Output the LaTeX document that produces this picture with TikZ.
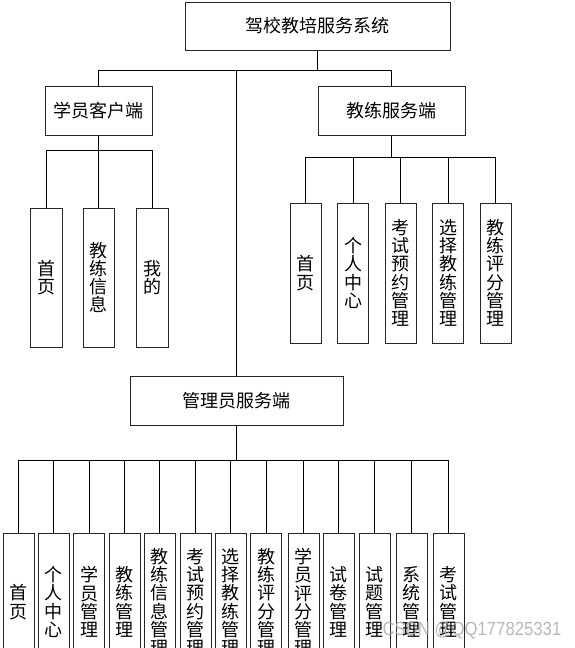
\documentclass[tikz,border=0pt]{standalone}
\usepackage{fontspec}
\newfontfamily\cjk{Noto Sans CJK SC}
\setmainfont{Liberation Sans}
\begin{document}
\begin{tikzpicture}[x=1pt,y=-1pt,
  box/.style={draw=black!85,line width=1pt,inner sep=0pt,font=\cjk\fontsize{18}{18.3}\selectfont},
  leaf/.style={box,minimum width=31pt,align=center},
  conn/.style={draw=black,line width=1pt}]
\useasboundingbox (0,0) rectangle (575,648);
% top level
\node[box,minimum width=265pt,minimum height=48pt] (top) at (317.5,26) {驾校教培服务系统};
\node[box,minimum width=107pt,minimum height=49pt] (stu) at (98.5,110.5) {学员客户端};
\node[box,minimum width=147pt,minimum height=49pt] (coa) at (391.5,110.5) {教练服务端};
\node[box,minimum width=213pt,minimum height=49pt] (adm) at (236.5,400.5) {管理员服务端};
% student leaves
\node[leaf,minimum width=32pt,minimum height=139pt] (s1) at (46,277.5) {首\\页};
\node[leaf,minimum width=31pt,minimum height=139pt] (s2) at (98.5,277.5) {教\\练\\信\\息};
\node[leaf,minimum width=32pt,minimum height=139pt] (s3) at (152,277.5) {我\\的};
% coach leaves
\node[leaf,minimum height=140pt] (c1) at (305.5,273) {首\\页};
\node[leaf,minimum height=140pt] (c2) at (353,273) {个\\人\\中\\心};
\node[leaf,minimum height=140pt] (c3) at (400.5,273) {考\\试\\预\\约\\管\\理};
\node[leaf,minimum height=140pt] (c4) at (448,273) {选\\择\\教\\练\\管\\理};
\node[leaf,minimum height=140pt] (c5) at (495.5,273) {教\\练\\评\\分\\管\\理};
% admin leaves
\node[leaf,minimum height=138pt] (a1) at (18.5,602) {首\\页};
\node[leaf,minimum height=138pt] (a2) at (53.5,602) {个\\人\\中\\心};
\node[leaf,minimum height=138pt] (a3) at (89,602) {学\\员\\管\\理};
\node[leaf,minimum height=138pt] (a4) at (124.5,602) {教\\练\\管\\理};
\node[leaf,minimum height=138pt] (a5) at (159.5,602) {教\\练\\信\\息\\管\\理};
\node[leaf,minimum height=138pt] (a6) at (195.5,602) {考\\试\\预\\约\\管\\理};
\node[leaf,minimum height=138pt] (a7) at (230.5,602) {选\\择\\教\\练\\管\\理};
\node[leaf,minimum height=138pt] (a8) at (266,602) {教\\练\\评\\分\\管\\理};
\node[leaf,minimum height=138pt] (a9) at (303.5,602) {学\\员\\评\\分\\管\\理};
\node[leaf,minimum height=138pt] (a10) at (338.5,602) {试\\卷\\管\\理};
\node[leaf,minimum height=138pt] (a11) at (374.5,602) {试\\题\\管\\理};
\node[leaf,minimum height=138pt] (a12) at (411.5,602) {系\\统\\管\\理};
\node[leaf,minimum height=138pt] (a13) at (448.5,602) {考\\试\\管\\理};
% connectors
\foreach \c in {stu,coa,adm} \draw[conn] (top.south) -- ++(0,20) -| (\c.north);
\foreach \c in {s1,s2,s3} \draw[conn] (stu.south) -- ++(0,15) -| (\c.north);
\foreach \c in {c1,c2,c3,c4,c5} \draw[conn] (coa.south) -- ++(0,22) -| (\c.north);
\foreach \c in {a1,a2,a3,a4,a5,a6,a7,a8,a9,a10,a11,a12,a13} \draw[conn] (adm.south) -- ++(0,35) -| (\c.north);
% watermark
\node[text=black!35,opacity=0.8,font=\fontsize{19}{19}\selectfont,xscale=0.88,inner sep=0pt] (wm) at (472,630) {CSDN @QQ177825331};
\end{tikzpicture}
\end{document}
